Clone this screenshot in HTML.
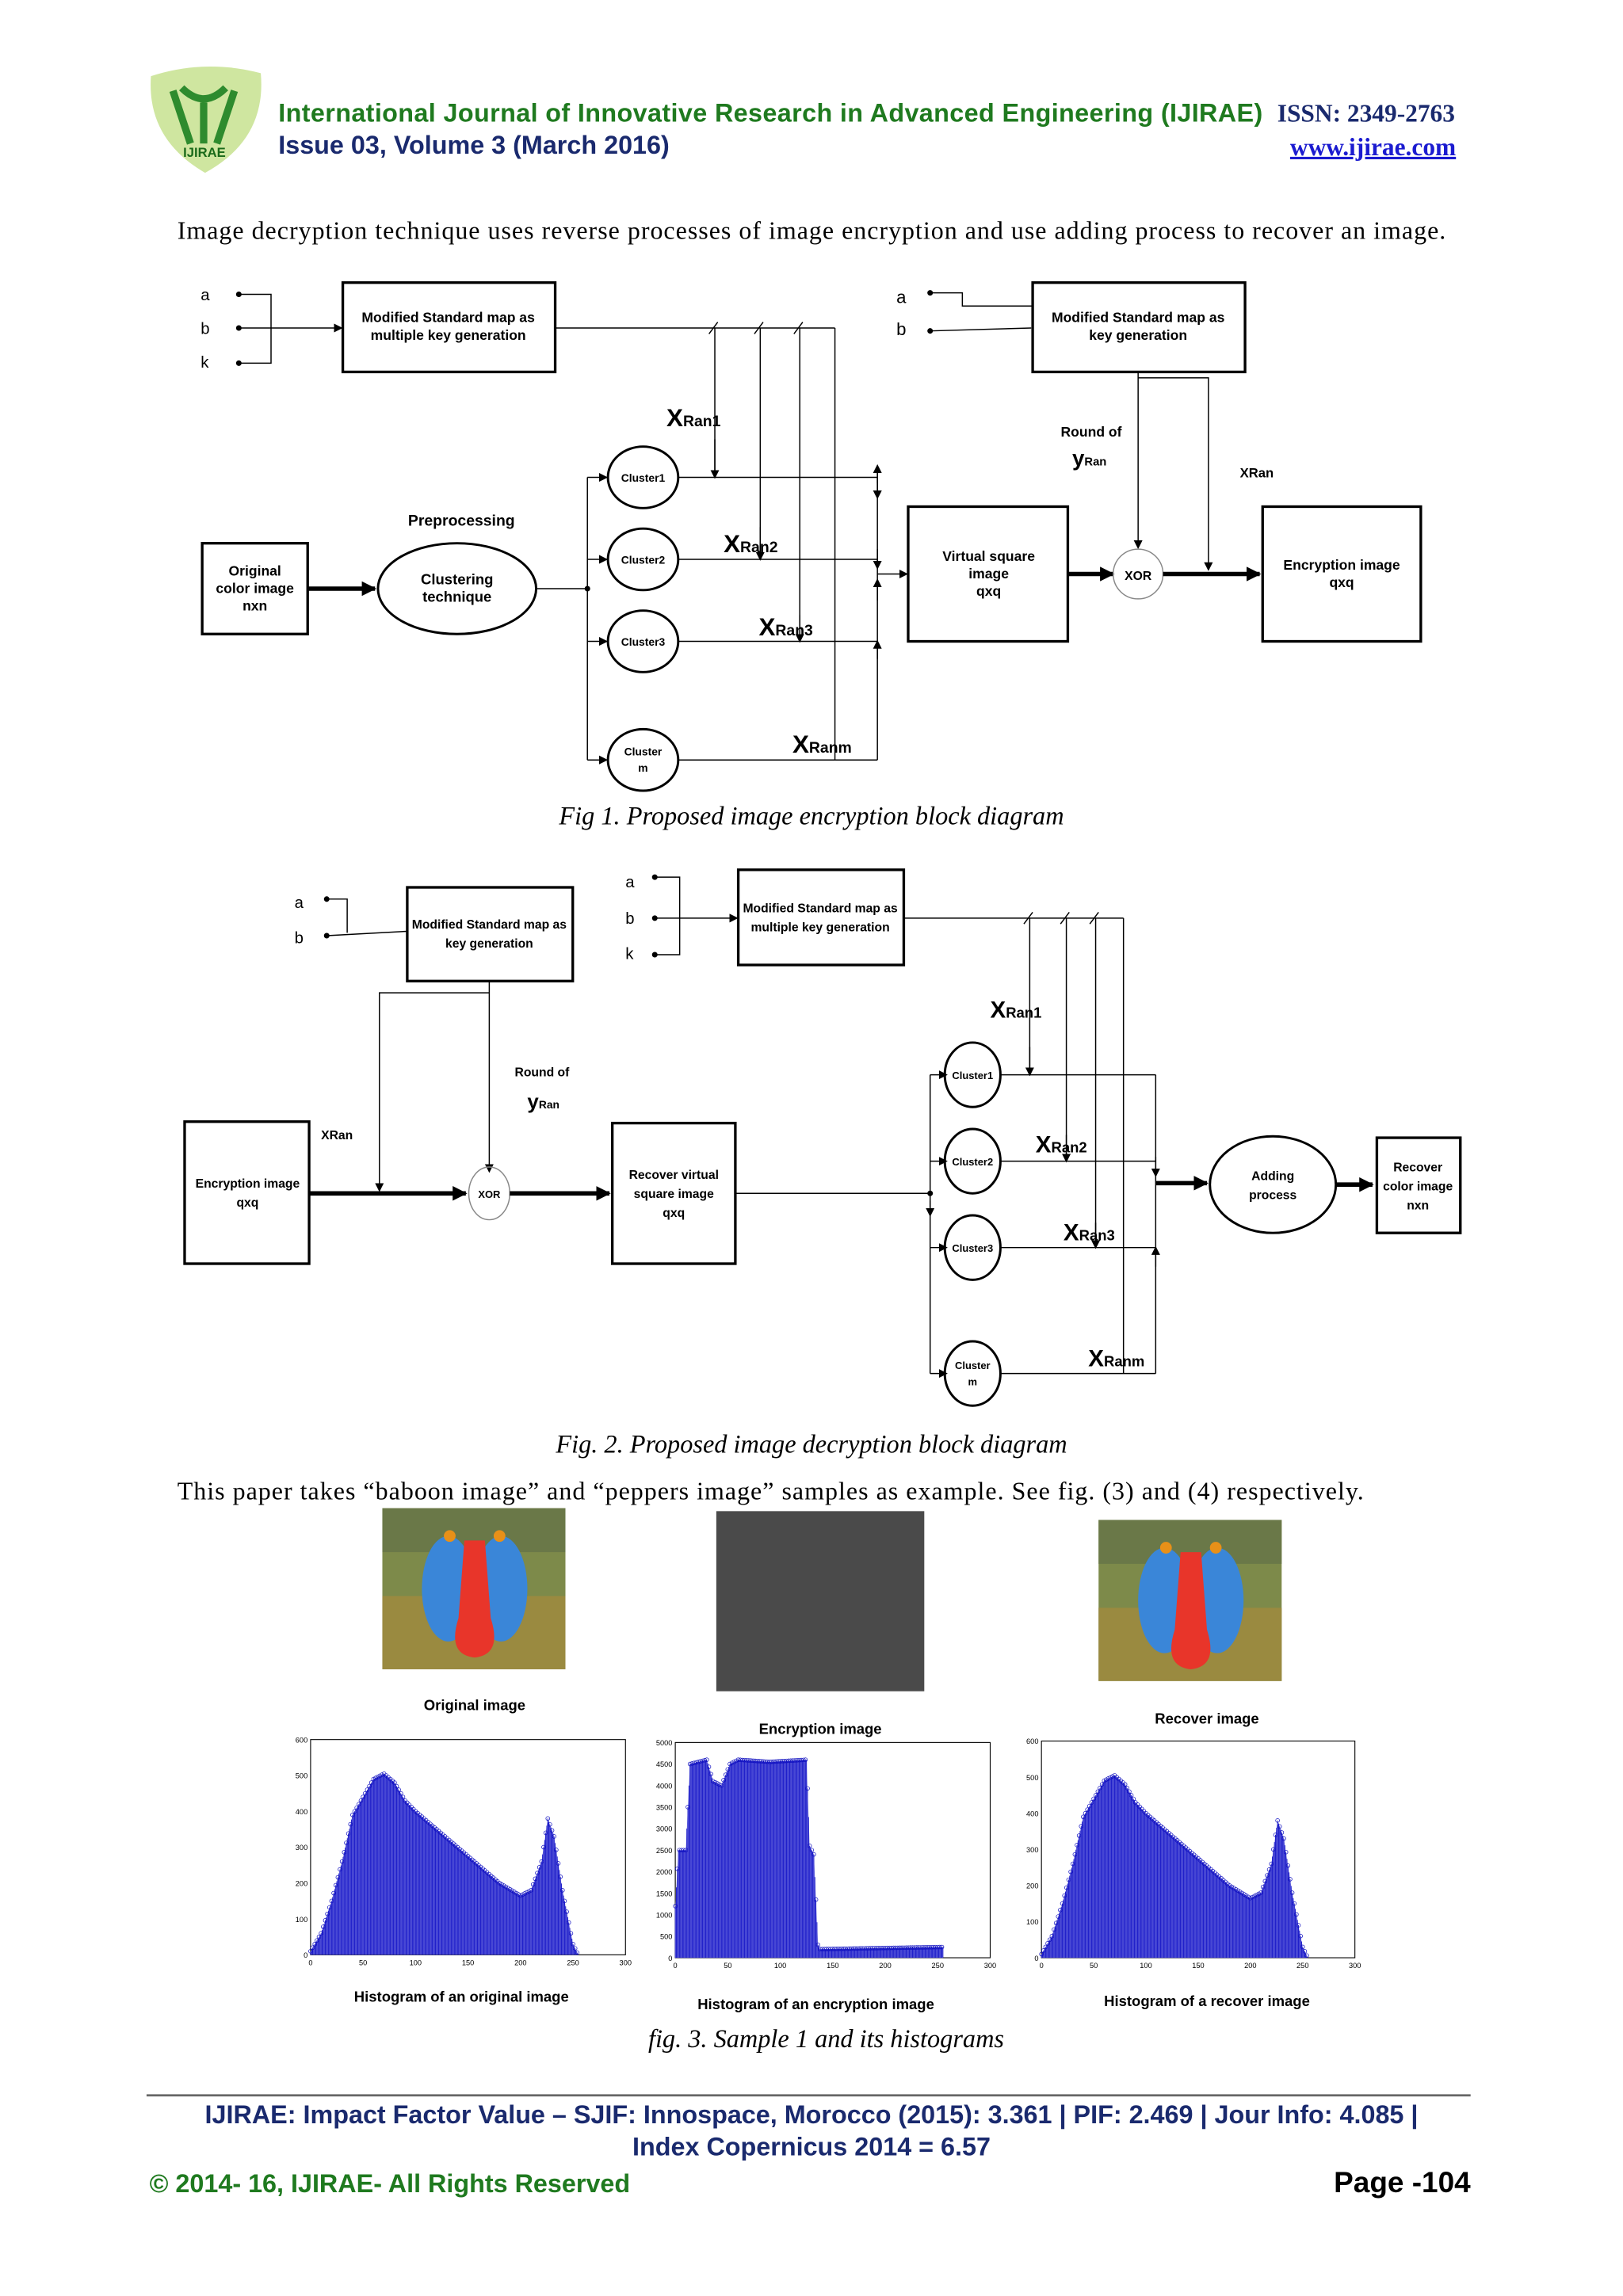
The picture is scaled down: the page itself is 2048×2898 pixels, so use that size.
<!DOCTYPE html>
<html><head><meta charset="utf-8"><style>
html,body{margin:0;padding:0;background:#fff}
svg{display:block}
.s{font-family:"Liberation Sans",sans-serif}
.r{font-family:"Liberation Serif",serif}
</style></head><body>
<svg id="sv" width="2048" height="2898" viewBox="0 0 1108 1568" xmlns="http://www.w3.org/2000/svg">
<defs>
<marker id="ah" markerWidth="6" markerHeight="6" refX="5" refY="3" orient="auto" markerUnits="userSpaceOnUse"><path d="M0,0 L6,3 L0,6 z" fill="#000"/></marker>
<marker id="ahb" markerWidth="10" markerHeight="10" refX="9" refY="5" orient="auto" markerUnits="userSpaceOnUse"><path d="M0,0 L10,5 L0,10 z" fill="#000"/></marker>
</defs>
<!-- header -->
<path d="M103,52 Q140,40 178,50 Q182,95 140,118 Q100,95 103,52z" fill="#cfe6a0"/>
<path d="M118,62 L130,98 M160,62 L148,98 M139,70 L139,98 M124,60 Q139,75 154,60" stroke="#2e8b2e" stroke-width="5" fill="none"/>
<text x="125" y="107" class="s" font-size="9" font-weight="bold" fill="#1a6a1a">IJIRAE</text>
<text x="190" y="83" class="s" font-size="17.5" font-weight="bold" fill="#1f7a1f" textLength="672">International Journal of Innovative Research in Advanced Engineering (IJIRAE)</text>
<text x="872" y="83" class="r" font-size="17" font-weight="bold" fill="#1a2a6e">ISSN: 2349-2763</text>
<text x="190" y="105" class="s" font-size="17.5" font-weight="bold" fill="#1a2a6e">Issue 03, Volume 3 (March 2016)</text>
<text x="994" y="106" class="r" font-size="17" font-weight="bold" fill="#1b1bd0" text-anchor="end" text-decoration="underline">www.ijirae.com</text>
<text x="121" y="163" class="r" font-size="17.3" textLength="866">Image decryption technique uses reverse processes of image encryption and use adding process to recover an image.</text>

<g id="fig1" stroke="#000" fill="none" stroke-width="0.8">
<g class="s" font-size="11" stroke="none" fill="#000"><text x="137" y="205">a</text><text x="137" y="228">b</text><text x="137" y="251">k</text></g>
<circle cx="163" cy="201" r="1.5" fill="#000"/><circle cx="163" cy="224" r="1.5" fill="#000"/><circle cx="163" cy="248" r="1.5" fill="#000"/>
<path d="M163,201 H185 V248 H163 M163,224 H233" marker-end="url(#ah)"/>
<rect x="234" y="193" width="145" height="61" stroke-width="1.8"/>
<path d="M379,224 H570 M488,224 V326 M519,224 V382 M546,224 V438 M570,224 V519" />
<path d="M488,300 V326" marker-end="url(#ah)"/><path d="M519,360 V382" marker-end="url(#ah)"/><path d="M546,420 V438" marker-end="url(#ah)"/>
<path d="M484,228 L490,220 M515,228 L521,220 M542,228 L548,220"/>
<g class="s" font-size="12" stroke="none" fill="#000"><text x="612" y="207">a</text><text x="612" y="229">b</text></g>
<circle cx="635" cy="200" r="1.5" fill="#000"/><circle cx="635" cy="226" r="1.5" fill="#000"/>
<path d="M635,200 H657 V209 H705 M635,226 L704,224"/>
<rect x="705" y="193" width="145" height="61" stroke-width="1.8"/>
<path d="M777,254 V374" marker-end="url(#ah)"/><path d="M777,258 H825 V389" marker-end="url(#ah)"/>
<rect x="138" y="371" width="72" height="62" stroke-width="1.8"/>
<path d="M210,402 H256" stroke-width="3" marker-end="url(#ahb)"/>
<ellipse cx="312" cy="402" rx="54" ry="31" stroke-width="1.6"/>
<path d="M366,402 H401 M401,326 V519"/><circle cx="401" cy="402" r="1.5" fill="#000"/>
<path d="M401,326 H414" marker-end="url(#ah)"/><path d="M401,382 H414" marker-end="url(#ah)"/><path d="M401,438 H414" marker-end="url(#ah)"/><path d="M401,519 H414" marker-end="url(#ah)"/>
<ellipse cx="439" cy="326" rx="24" ry="21" stroke-width="1.6"/><ellipse cx="439" cy="382" rx="24" ry="21" stroke-width="1.6"/><ellipse cx="439" cy="438" rx="24" ry="21" stroke-width="1.6"/><ellipse cx="439" cy="519" rx="24" ry="21" stroke-width="1.6"/>
<path d="M463,326 H599 M463,382 H599 M463,438 H599 M463,519 H599 M599,319 V519"/>
<path d="M599,330 V318" marker-end="url(#ah)"/><path d="M599,326 V340" marker-end="url(#ah)"/><path d="M599,375 V388" marker-end="url(#ah)"/><path d="M599,410 V396" marker-end="url(#ah)"/><path d="M599,450 V438" marker-end="url(#ah)"/>
<path d="M599,392 H619" marker-end="url(#ah)"/>
<rect x="620" y="346" width="109" height="92" stroke-width="1.8"/>
<path d="M729,392 H760" stroke-width="3" marker-end="url(#ahb)"/>
<circle cx="777" cy="392" r="17" stroke="#888"/>
<path d="M794,392 H860" stroke-width="3" marker-end="url(#ahb)"/>
<rect x="862" y="346" width="108" height="92" stroke-width="1.8"/>
</g>
<g class="s" font-weight="bold" fill="#000" text-anchor="middle">
<text x="306" y="220" font-size="9.5">Modified Standard map as</text><text x="306" y="232" font-size="9.5">multiple key generation</text>
<text x="777" y="220" font-size="9.5">Modified Standard map as</text><text x="777" y="232" font-size="9.5">key  generation</text>
<text x="174" y="393" font-size="9.5">Original</text><text x="174" y="405" font-size="9.5">color image</text><text x="174" y="417" font-size="9.5">nxn</text>
<text x="312" y="399" font-size="10">Clustering</text><text x="312" y="411" font-size="10">technique</text>
<text x="315" y="359" font-size="10.5">Preprocessing</text>
<text x="439" y="329" font-size="7.5">Cluster1</text><text x="439" y="385" font-size="7.5">Cluster2</text><text x="439" y="441" font-size="7.5">Cluster3</text><text x="439" y="516" font-size="7.5">Cluster</text><text x="439" y="527" font-size="7.5">m</text>
<text x="675" y="383" font-size="9.5">Virtual square</text><text x="675" y="395" font-size="9.5">image</text><text x="675" y="407" font-size="9.5">qxq</text>
<text x="777" y="396" font-size="8.5">XOR</text>
<text x="916" y="389" font-size="9.5">Encryption image</text><text x="916" y="401" font-size="9.5">qxq</text>
<text x="745" y="298" font-size="9.5">Round of</text>
<text x="858" y="326" font-size="9">XRan</text>
</g>
<g class="s" font-weight="bold" fill="#000">
<text x="732" y="318" font-size="15">y<tspan font-size="8">Ran</tspan></text>
<text x="455" y="291" font-size="17">X<tspan font-size="10.5">Ran1</tspan></text>
<text x="494" y="377" font-size="17">X<tspan font-size="10.5">Ran2</tspan></text>
<text x="518" y="434" font-size="17">X<tspan font-size="10.5">Ran3</tspan></text>
<text x="541" y="514" font-size="17">X<tspan font-size="10.5">Ranm</tspan></text>
</g>
<text x="554" y="563" class="r" font-size="17.5" font-style="italic" text-anchor="middle">Fig 1. Proposed image encryption block diagram</text>

<g id="fig2" stroke="#000" fill="none" stroke-width="0.8">
<circle cx="223" cy="614" r="1.5" fill="#000"/><circle cx="223" cy="639" r="1.5" fill="#000"/>
<path d="M223,614 H237 V637 M223,639 L278,636"/>
<rect x="278" y="606" width="113" height="64" stroke-width="1.8"/>
<circle cx="447" cy="599" r="1.5" fill="#000"/><circle cx="447" cy="627" r="1.5" fill="#000"/><circle cx="447" cy="652" r="1.5" fill="#000"/>
<path d="M447,599 H464 V652 H447"/><path d="M447,627 H503" marker-end="url(#ah)"/>
<rect x="504" y="594" width="113" height="65" stroke-width="1.8"/>
<path d="M617,627 H767 M767,627 V938 M748,627 V852 M728,627 V793 M703,627 V734"/>
<path d="M703,715 V734" marker-end="url(#ah)"/><path d="M728,775 V793" marker-end="url(#ah)"/><path d="M748,835 V852" marker-end="url(#ah)"/>
<path d="M699,631 L705,623 M724,631 L730,623 M744,631 L750,623"/>
<path d="M334,670 V800" marker-end="url(#ah)"/><path d="M334,678 H259 V813" marker-end="url(#ah)"/>
<rect x="126" y="766" width="85" height="97" stroke-width="1.8"/>
<path d="M211,815 H318" stroke-width="3" marker-end="url(#ahb)"/>
<ellipse cx="334" cy="815" rx="14" ry="18" stroke="#888"/>
<path d="M348,815 H416" stroke-width="3" marker-end="url(#ahb)"/>
<rect x="418" y="767" width="84" height="96" stroke-width="1.8"/>
<path d="M502,815 H635 M635,734 V938"/><circle cx="635" cy="815" r="1.5" fill="#000"/>
<path d="M635,734 H646" marker-end="url(#ah)"/><path d="M635,793 H646" marker-end="url(#ah)"/><path d="M635,852 H646" marker-end="url(#ah)"/><path d="M635,938 H646" marker-end="url(#ah)"/>
<path d="M635,820 V830" marker-end="url(#ah)"/>
<ellipse cx="664" cy="734" rx="19" ry="22" stroke-width="1.6"/><ellipse cx="664" cy="793" rx="19" ry="22" stroke-width="1.6"/><ellipse cx="664" cy="852" rx="19" ry="22" stroke-width="1.6"/><ellipse cx="664" cy="938" rx="19" ry="22" stroke-width="1.6"/>
<path d="M683,734 H789 M683,793 H789 M683,852 H789 M683,938 H789 M789,734 V938"/>
<path d="M789,790 V803" marker-end="url(#ah)"/><path d="M789,865 V852" marker-end="url(#ah)"/>
<path d="M789,808 H824" stroke-width="3" marker-end="url(#ahb)"/>
<ellipse cx="869" cy="809" rx="43" ry="33" stroke-width="1.6"/>
<path d="M912,809 H937" stroke-width="3" marker-end="url(#ahb)"/>
<rect x="940" y="777" width="57" height="65" stroke-width="1.8"/>
</g>
<g class="s" fill="#000"><text x="201" y="620" font-size="11">a</text><text x="201" y="644" font-size="11">b</text><text x="427" y="606" font-size="11">a</text><text x="427" y="631" font-size="11">b</text><text x="427" y="655" font-size="11">k</text></g>
<g class="s" font-weight="bold" fill="#000" text-anchor="middle" font-size="8.5">
<text x="334" y="634">Modified Standard map as</text><text x="334" y="647">key  generation</text>
<text x="560" y="623">Modified Standard map as</text><text x="560" y="636">multiple key generation</text>
<text x="370" y="735">Round of</text><text x="230" y="778">XRan</text>
<text x="169" y="811">Encryption image</text><text x="169" y="824">qxq</text>
<text x="334" y="818" font-size="7">XOR</text>
<text x="460" y="805">Recover virtual</text><text x="460" y="818">square image</text><text x="460" y="831">qxq</text>
<text x="664" y="737" font-size="7">Cluster1</text><text x="664" y="796" font-size="7">Cluster2</text><text x="664" y="855" font-size="7">Cluster3</text><text x="664" y="935" font-size="7">Cluster</text><text x="664" y="946" font-size="7">m</text>
<text x="869" y="806">Adding</text><text x="869" y="819">process</text>
<text x="968" y="800">Recover</text><text x="968" y="813">color image</text><text x="968" y="826">nxn</text>
</g>
<g class="s" font-weight="bold" fill="#000">
<text x="360" y="757" font-size="14">y<tspan font-size="7.5">Ran</tspan></text>
<text x="676" y="695" font-size="16">X<tspan font-size="10">Ran1</tspan></text>
<text x="707" y="787" font-size="16">X<tspan font-size="10">Ran2</tspan></text>
<text x="726" y="847" font-size="16">X<tspan font-size="10">Ran3</tspan></text>
<text x="743" y="933" font-size="16">X<tspan font-size="10">Ranm</tspan></text>
</g>
<text x="554" y="992" class="r" font-size="17.5" font-style="italic" text-anchor="middle">Fig. 2. Proposed image decryption block diagram</text>
<text x="121" y="1024" class="r" font-size="17.3" textLength="810">This paper takes “baboon image” and “peppers image” samples as example. See fig. (3) and (4) respectively.</text>

<!-- images -->
<g id="bab1" transform="translate(261,1030)"></g>
<rect x="489" y="1032" width="142" height="123" fill="#4a4a4a"/>
<g id="bab2" transform="translate(750,1038)"></g>
<g class="s" font-weight="bold" fill="#000" text-anchor="middle" font-size="10">
<text x="324" y="1168">Original image</text><text x="560" y="1184">Encryption image</text><text x="824" y="1177">Recover image</text>
<text x="315" y="1367">Histogram of an original image</text><text x="557" y="1372">Histogram of an encryption image</text><text x="824" y="1370">Histogram of a recover image</text>
</g>
<g id="hists"></g>
<text x="564" y="1398" class="r" font-size="17.5" font-style="italic" text-anchor="middle">fig. 3. Sample 1 and its histograms</text>

<line x1="100" y1="1431" x2="1004" y2="1431" stroke="#666" stroke-width="1.5"/>
<g class="s" font-weight="bold" fill="#1a2a6e" font-size="17.5" text-anchor="middle">
<text x="554" y="1450">IJIRAE: Impact Factor Value – SJIF: Innospace, Morocco (2015): 3.361 | PIF: 2.469 | Jour Info: 4.085 |</text>
<text x="554" y="1472">Index Copernicus 2014 = 6.57</text>
</g>
<text x="102" y="1497" class="s" font-weight="bold" font-size="17.5" fill="#1f7a1f">© 2014- 16, IJIRAE- All Rights Reserved</text>
<text x="1004" y="1497" class="s" font-weight="bold" font-size="20" fill="#000" text-anchor="end">Page -104</text>
</svg>
<script>
var NS="http://www.w3.org/2000/svg";
function el(p,t,a){var e=document.createElementNS(NS,t);for(var k in a)e.setAttribute(k,a[k]);p.appendChild(e);return e;}
function baboon(g){
 el(g,"rect",{x:0,y:0,width:125,height:110,fill:"#7d8a4a"});
 el(g,"rect",{x:0,y:60,width:125,height:50,fill:"#9a8a40"});
 el(g,"rect",{x:0,y:0,width:125,height:30,fill:"#6a7848"});
 el(g,"ellipse",{cx:45,cy:55,rx:18,ry:36,fill:"#3a86d8"});
 el(g,"ellipse",{cx:81,cy:55,rx:18,ry:36,fill:"#3a86d8"});
 el(g,"path",{d:"M56,22 L70,22 L74,75 Q82,100 63,102 Q44,100 52,75z",fill:"#e8352a"});
 el(g,"circle",{cx:46,cy:19,r:4,fill:"#e89018"});el(g,"circle",{cx:80,cy:19,r:4,fill:"#e89018"});
}
baboon(document.getElementById("bab1"));baboon(document.getElementById("bab2"));
function hist(x0,y0,w,h,ymax,data,ticks){
 var g=document.getElementById("hists");
 el(g,"rect",{x:x0,y:y0,width:w,height:h,fill:"none",stroke:"#000","stroke-width":0.6});
 function X(v){return x0+v/300*w}function Y(v){return y0+h-v/ymax*h}
 var pts=data;
 var v=[];
 for(var k=0;k<256;k++){var a,b;for(var j=0;j<pts.length-1;j++){if(k>=pts[j][0]&&k<=pts[j+1][0]){a=pts[j];b=pts[j+1];break;}}
  var t=(k-a[0])/((b[0]-a[0])||1);var val=a[1]+(b[1]-a[1])*t;v.push(val);}
 var d="M"+X(0)+","+Y(0);for(var k=0;k<256;k++)d+=" L"+X(k)+","+Y(v[k]);d+=" L"+X(255)+","+Y(0)+"z";
 el(g,"path",{d:d,fill:"#8f8fe8",stroke:"none"});
 var sd="";for(var k=0;k<256;k++){sd+="M"+X(k).toFixed(2)+","+Y(0)+" V"+Y(v[k]).toFixed(2)+" ";}
 el(g,"path",{d:sd,stroke:"#1818c8","stroke-width":0.5,fill:"none"});
 for(var k=0;k<256;k+=2){el(g,"circle",{cx:X(k),cy:Y(v[k]),r:1.3,fill:"none",stroke:"#1010c0","stroke-width":0.4});}
 for(var t=0;t<=300;t+=50){var tx=el(g,"text",{x:X(t),y:y0+h+7,"font-size":5,"text-anchor":"middle","font-family":"Liberation Sans"});tx.textContent=t;}
 for(var i=0;i<ticks.length;i++){var tv=ticks[i];var tx=el(g,"text",{x:x0-2,y:Y(tv)+2,"font-size":5,"text-anchor":"end","font-family":"Liberation Sans"});tx.textContent=tv;}
}
var orig=[[0,10],[10,60],[20,150],[30,260],[40,390],[50,440],[60,490],[70,505],[80,480],[90,430],[100,400],[120,350],[140,300],[160,250],[180,200],[200,165],[210,180],[220,260],[226,380],[232,330],[240,180],[250,30],[255,0]];
hist(212,1188,215,147,600,orig,[0,100,200,300,400,500,600]);
hist(711,1189,214,148,600,orig,[0,100,200,300,400,500,600]);
var enc=[[0,1200],[3,2500],[10,2500],[14,4500],[30,4600],[36,4100],[44,4000],[52,4500],[60,4600],[90,4550],[125,4600],[128,2600],[132,2400],[136,300],[138,200],[255,250]];
hist(461,1190,215,147,5000,enc,[0,500,1000,1500,2000,2500,3000,3500,4000,4500,5000]);
</script>
</body></html>
